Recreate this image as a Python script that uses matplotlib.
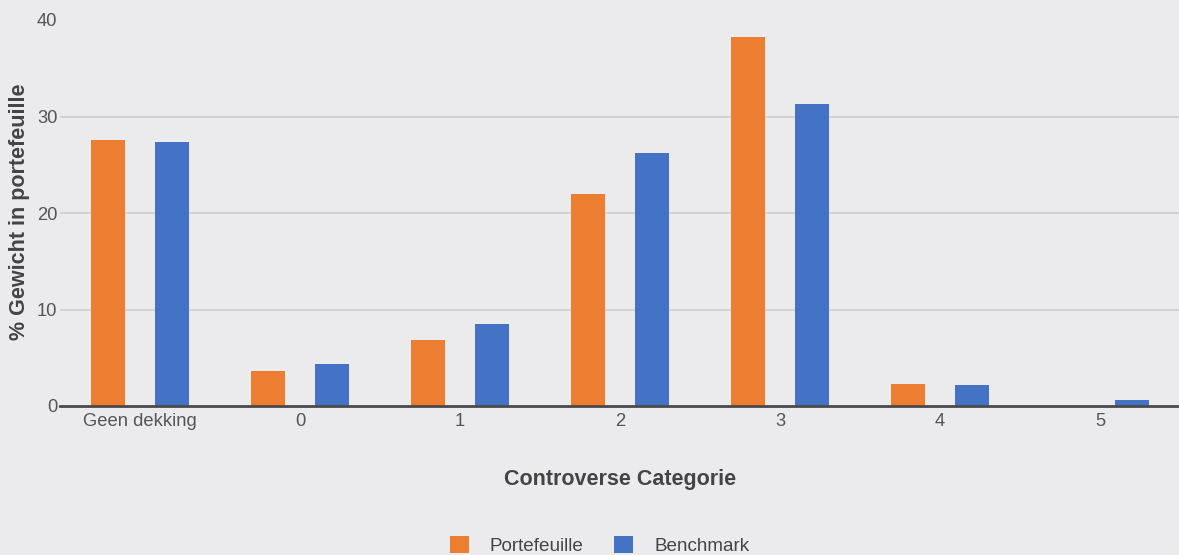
import matplotlib.pyplot as plt
import numpy as np

categorieen = ['Geen dekking', '0', '1', '2', '3', '4', '5']
portefeuille = [27.6, 3.6, 6.8, 22.0, 38.2, 2.3, 0.0]
benchmark = [27.4, 4.35, 8.5, 26.2, 31.3, 2.2, 0.6]

plt.rcParams['font.family'] = ['Liberation Sans', 'DejaVu Sans']
bg = '#ebebee'
oranje = '#ed7d31'
blauw = '#4472c4'
tekst = '#444444'

fig = plt.figure(figsize=(11.79, 5.55), dpi=100, facecolor=bg)
ax = fig.add_axes([60 / 1179, 1 - 406 / 555, 1120 / 1179, 386 / 555])
ax.set_facecolor(bg)

x = np.arange(len(categorieen))
b = 0.21
ax.bar(x - 0.2, portefeuille, width=b, color=oranje, label='Portefeuille', zorder=3)
ax.bar(x + 0.2, benchmark, width=b, color=blauw, label='Benchmark', zorder=3)

ax.set_xlim(-0.5, len(categorieen) - 0.5)
ax.set_ylim(0, 40)
ax.set_yticks([0, 10, 20, 30, 40])
ax.set_xticks(x)
ax.set_xticklabels(categorieen)
ax.tick_params(axis='both', length=0, labelsize=13.2, colors='#555555')
ax.tick_params(axis='x', pad=5)
ax.tick_params(axis='y', pad=2)
for g in [10, 20, 30]:
    ax.axhline(g, color='#cdcdd0', linewidth=1.2, zorder=1)
for s in ['top', 'right', 'left']:
    ax.spines[s].set_visible(False)
ax.spines['bottom'].set_color('#4a4a4a')
ax.spines['bottom'].set_linewidth(2)
ax.spines['bottom'].set_zorder(4)

fig.text(620 / 1179, 1 - 479 / 555, 'Controverse Categorie', ha='center', va='center',
         fontsize=15.5, fontweight='bold', color=tekst)
fig.text(20 / 1179, 1 - 212 / 555, '% Gewicht in portefeuille', ha='center', va='center',
         rotation=90, fontsize=15.5, fontweight='bold', color=tekst)

fig.legend(loc='center', bbox_to_anchor=(599.5 / 1179, 1 - 545.5 / 555), ncol=2, frameon=False,
           fontsize=13.6, labelcolor=tekst, handlelength=1.0, handleheight=1.0,
           handletextpad=1.1, columnspacing=1.65)

fig.savefig('out.png', dpi=100, facecolor=bg)
